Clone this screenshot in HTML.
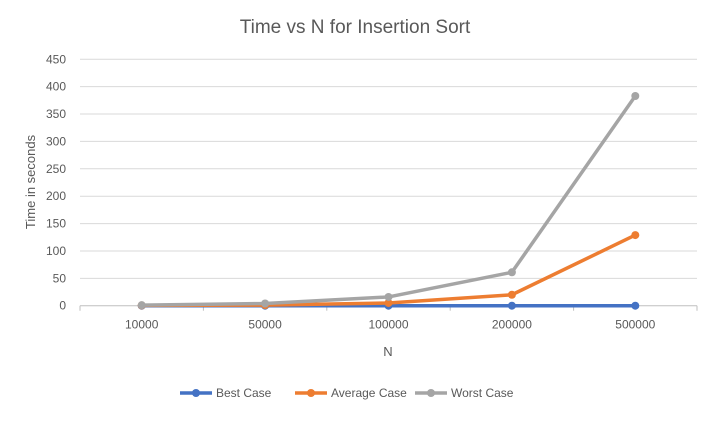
<!DOCTYPE html>
<html><head><meta charset="utf-8"><style>
body{margin:0;background:#fff;font-family:"Liberation Sans",sans-serif}
text{font-family:"Liberation Sans",sans-serif}
</style></head><body>
<svg id="c" width="710" height="416">
<text x="355" y="33" text-anchor="middle" font-size="19" fill="#595959">Time vs N for Insertion Sort</text>
<text transform="translate(35,182) rotate(-90)" text-anchor="middle" font-size="13" fill="#595959">Time in seconds</text>
<text x="388" y="356" text-anchor="middle" font-size="13" fill="#595959">N</text>
<g id="grid"></g><g id="series"></g><g id="legend"></g>
</svg>
<script>
const categories=["10000","50000","100000","200000","500000"];
const bestCase=[0,0,0,0,0];
const averageCase=[0.5,1,5,20,129];
const worstCase=[1,4,16,61,383];
const yTicks=[0,50,100,150,200,250,300,350,400,450];
const ns="http://www.w3.org/2000/svg";
const L=80,R=697,T=59.3,B=305.7,yMax=450;
const cw=(R-L)/categories.length;
const x=i=>L+cw*(i+0.5);
const y=v=>B-(v/yMax)*(B-T);
function mk(tag,attrs,parent){const e=document.createElementNS(ns,tag);for(const k in attrs)e.setAttribute(k,attrs[k]);parent.appendChild(e);return e;}
const g=document.getElementById('grid');
yTicks.forEach(t=>{
 const l=mk('line',{x1:L,x2:R,y1:y(t),y2:y(t),stroke:t===0?'#bfbfbf':'#d9d9d9','stroke-width':1},g);
 
 
 const tx=mk('text',{x:66,y:y(t)+4,'text-anchor':'end','font-size':12,fill:'#595959'},g);
 tx.textContent=t;
 
 
});
for(let i=0;i<=categories.length;i++){
 const l=mk('line',{x1:L+cw*i,x2:L+cw*i,y1:B,y2:B+5,stroke:'#bfbfbf'},g);
 
 
}
categories.forEach((c,i)=>{
 const tx=mk('text',{x:x(i),y:B+23,'text-anchor':'middle','font-size':12,fill:'#595959'},g);
 tx.textContent=c;
 
 
});
const sg=document.getElementById('series');
const series=[["best-case",bestCase,"#4472c4","Best Case"],["average-case",averageCase,"#ed7d31","Average Case"],["worst-case",worstCase,"#a5a5a5","Worst Case"]];
series.forEach(([n,d,col])=>{
 const p=mk('polyline',{points:d.map((v,i)=>x(i)+','+y(v)).join(' '),fill:'none',stroke:col,'stroke-width':3.5,'stroke-linejoin':'round'},sg);
 
 
 d.forEach((v,i)=>{
  const c=mk('circle',{cx:x(i),cy:y(v),r:4,fill:col},sg);
  
  
 });
});
const lg=document.getElementById('legend');
const lx=[180,295,415];
series.forEach(([n,d,col,label],i)=>{
 const gg=mk('g',{},lg);
 
 
 mk('line',{x1:lx[i],x2:lx[i]+32,y1:393,y2:393,stroke:col,'stroke-width':3.5},gg);
 mk('circle',{cx:lx[i]+16,cy:393,r:4,fill:col},gg);
 const t=mk('text',{x:lx[i]+36,y:397,'font-size':12,fill:'#595959'},gg);
 t.textContent=label;
});
</script>
</body></html>
